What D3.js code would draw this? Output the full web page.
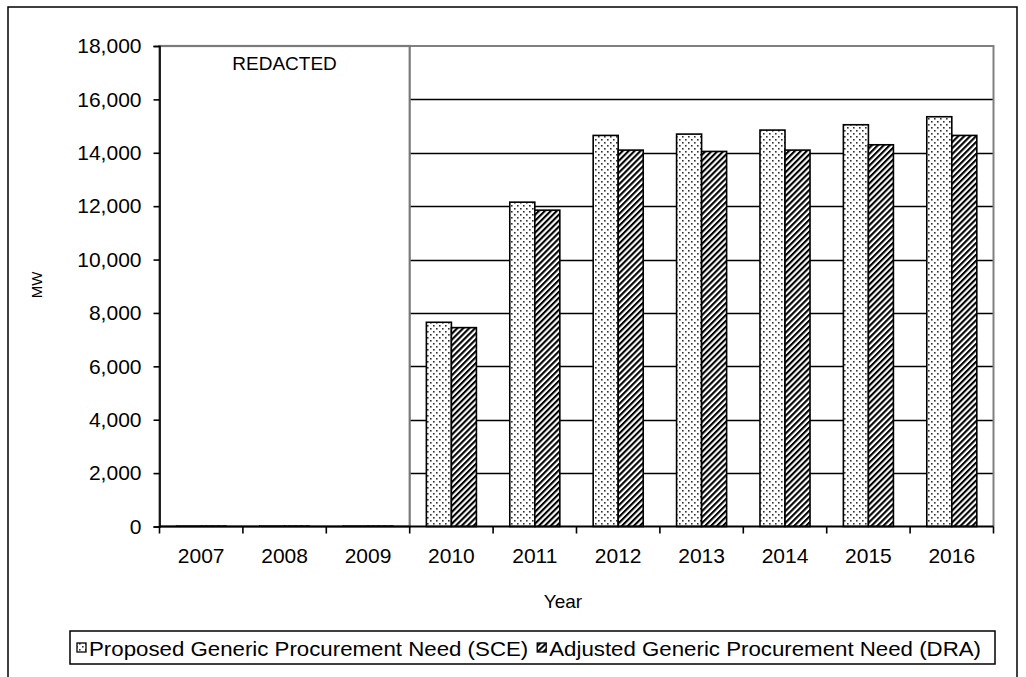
<!DOCTYPE html>
<html>
<head>
<meta charset="utf-8">
<script src="https://cdn.jsdelivr.net/npm/d3@7"></script>
<style>
  html, body { margin: 0; padding: 0; background: #fff; }
  svg { display: block; font-family: "Liberation Sans", Arial, sans-serif; }
</style>
</head>
<body>
<svg id="chart" width="1026" height="677"></svg>
<script>
// Procurement need by year, MW
const years = ["2007", "2008", "2009", "2010", "2011", "2012", "2013", "2014", "2015", "2016"];
const sceNeed = [30, 30, 30, 7650, 12150, 14650, 14700, 14850, 15050, 15350];
const draNeed = [30, 30, 30, 7450, 11850, 14100, 14050, 14100, 14300, 14650];
const yTicks = [0, 2000, 4000, 6000, 8000, 10000, 12000, 14000, 16000, 18000];
const seriesNames = ["Proposed Generic Procurement Need (SCE)", "Adjusted Generic Procurement Need (DRA)"];
const redactedYears = ["2007", "2008", "2009"];
const redactedLabel = "REDACTED";

const svg = d3.select("#chart");
const plot = { left: 159.5, right: 993.5, top: 46, bottom: 526.5 };

// Fill patterns: fine dots and upward diagonal hatch
const defs = svg.append("defs");
const dots = defs.append("pattern").attr("id", "dots")
  .attr("patternUnits", "userSpaceOnUse").attr("width", 6).attr("height", 6);
dots.append("rect").attr("width", 6).attr("height", 6).attr("fill", "#fff");
dots.append("rect").attr("x", 1).attr("y", 1).attr("width", 1.6).attr("height", 1.6).attr("fill", "#333");
dots.append("rect").attr("x", 4).attr("y", 4).attr("width", 1.6).attr("height", 1.6).attr("fill", "#333");

const hatch = defs.append("pattern").attr("id", "hatch")
  .attr("patternUnits", "userSpaceOnUse").attr("width", 4.2).attr("height", 4.2)
  .attr("patternTransform", "rotate(45)");
hatch.append("rect").attr("width", 4.2).attr("height", 4.2).attr("fill", "#fff");
hatch.append("rect").attr("x", 0).attr("y", 0).attr("width", 2.1).attr("height", 4.2).attr("fill", "#000");

// Outer chart frame
svg.append("rect").attr("x", 8).attr("y", 7).attr("width", 1009).attr("height", 690)
  .attr("fill", "#fff").attr("stroke", "#000").attr("stroke-width", 1.5);

const x = d3.scaleBand().domain(years).range([plot.left, plot.right]).padding(0);
const y = d3.scaleLinear().domain([0, 18000]).range([plot.bottom, plot.top]);
const step = x.step();
const barW = step * 0.3;
const barOff = step * 0.2;

// Gridlines (skipping 0 and top border)
const redactRight = x(redactedYears[redactedYears.length - 1]) + step;
svg.append("g").selectAll("line").data(yTicks.filter(t => t > 0 && t < 18000)).join("line")
  .attr("x1", plot.left).attr("x2", plot.right)
  .attr("y1", d => Math.round(y(d)) + 0.5).attr("y2", d => Math.round(y(d)) + 0.5)
  .attr("stroke", "#000").attr("stroke-width", 1.6);

// Plot area border (top/right)
svg.append("path")
  .attr("d", `M${plot.left},${plot.top}H${plot.right}V${plot.bottom}`)
  .attr("fill", "none").attr("stroke", "#808080").attr("stroke-width", 2);

// Redacted block covering the early years
svg.append("rect")
  .attr("x", x(redactedYears[0])).attr("y", y(18000))
  .attr("width", redactRight - x(redactedYears[0])).attr("height", y(0) - y(18000))
  .attr("fill", "#fff").attr("stroke", "#7a7a7a").attr("stroke-width", 2.2);
svg.append("text")
  .attr("x", (x(redactedYears[0]) + redactRight) / 2).attr("y", y(18000) + 24)
  .attr("text-anchor", "middle").attr("font-size", 19).attr("fill", "#000")
  .text(redactedLabel);

// Bars
const rows = years.map((yr, i) => ({ yr, sce: sceNeed[i], dra: draNeed[i] }));
const bars = svg.append("g");
bars.selectAll(".sce").data(rows).join("rect").attr("class", "sce")
  .attr("x", d => x(d.yr) + barOff).attr("width", barW)
  .attr("y", d => y(d.sce)).attr("height", d => y(0) - y(d.sce))
  .attr("fill", "url(#dots)").attr("stroke", "#000").attr("stroke-width", d => d.sce < 500 ? 0.6 : 1.6);
bars.selectAll(".dra").data(rows).join("rect").attr("class", "dra")
  .attr("x", d => x(d.yr) + barOff + barW).attr("width", barW)
  .attr("y", d => y(d.dra)).attr("height", d => y(0) - y(d.dra))
  .attr("fill", "url(#hatch)").attr("stroke", "#000").attr("stroke-width", d => d.dra < 500 ? 0.6 : 1.6);

// Y axis
const yAxis = d3.axisLeft(y).tickValues(yTicks).tickSize(6).tickPadding(12)
  .tickFormat(d3.format(","));
const gy = svg.append("g").attr("transform", `translate(${plot.left},0)`).call(yAxis);
gy.select(".domain").attr("stroke", "#000").attr("stroke-width", 1.6);
gy.selectAll(".tick line").attr("stroke", "#000").attr("stroke-width", 1.6);
gy.selectAll(".tick text").attr("font-size", 21).attr("fill", "#000")
  .attr("font-family", "Liberation Sans, Arial, sans-serif");

// X axis: ticks at category boundaries, labels centred
const gx = svg.append("g").attr("transform", `translate(0,${plot.bottom})`);
gx.append("line").attr("x1", plot.left).attr("x2", plot.right)
  .attr("stroke", "#000").attr("stroke-width", 1.8);
const bounds = years.map(yr => x(yr)).concat([plot.right]);
gx.selectAll(".tk").data(bounds).join("line").attr("class", "tk")
  .attr("x1", d => d).attr("x2", d => d).attr("y1", 0).attr("y2", 7)
  .attr("stroke", "#000").attr("stroke-width", 1.6);
gx.selectAll(".lbl").data(years).join("text").attr("class", "lbl")
  .attr("x", d => x(d) + step / 2).attr("y", 36)
  .attr("text-anchor", "middle").attr("font-size", 21).attr("fill", "#000")
  .text(d => d);

// Axis titles
svg.append("text").attr("x", 563).attr("y", 608).attr("text-anchor", "middle")
  .attr("font-size", 19).attr("fill", "#000").text("Year");
svg.append("text").attr("transform", "translate(42,285) rotate(-90)")
  .attr("text-anchor", "middle").attr("font-size", 15).attr("fill", "#000").text("MW");

// Legend: items laid out left to right, each text slightly widened
const lg = svg.append("g");
lg.append("rect").attr("x", 70).attr("y", 631).attr("width", 925).attr("height", 33)
  .attr("fill", "#fff").attr("stroke", "#000").attr("stroke-width", 1.5);
const legendFills = ["url(#dots)", "url(#hatch)"];
let cursor = 77;
seriesNames.forEach((name, i) => {
  lg.append("rect").attr("x", cursor).attr("y", 643).attr("width", 9).attr("height", 9)
    .attr("fill", legendFills[i]).attr("stroke", "#000").attr("stroke-width", 1.3);
  const t = lg.append("text").attr("x", cursor + 12).attr("y", 656)
    .attr("font-size", 21).attr("fill", "#000").text(name);
  const w = t.node().getComputedTextLength() * 1.06;
  t.attr("textLength", w).attr("lengthAdjust", "spacingAndGlyphs");
  cursor += 12 + w + 9;
});
</script>
</body>
</html>
